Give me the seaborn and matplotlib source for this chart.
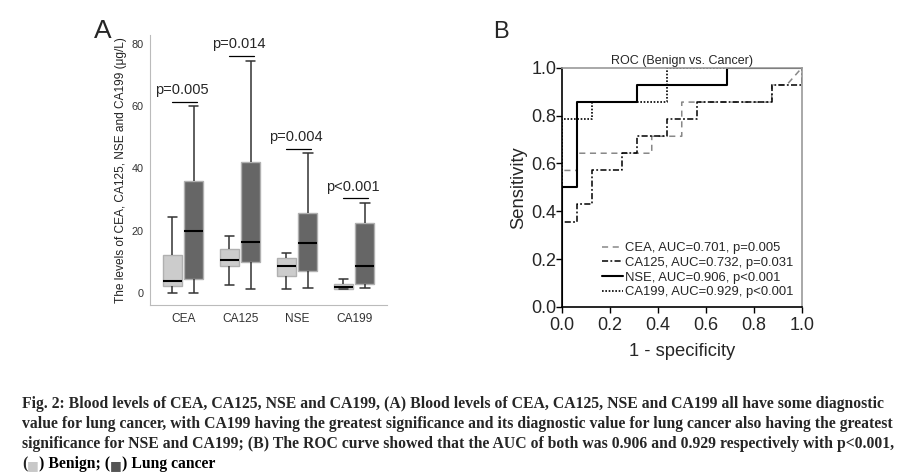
import numpy as np
import pandas as pd
import seaborn as sns
import matplotlib.pyplot as plt

# panel A: five-number summaries (min, q1, median, q3, max)
markers = ["CEA", "CA125", "NSE", "CA199"]
benign = {
    "CEA": [0.0, 2.0, 3.6, 12.0, 24.3],
    "CA125": [2.4, 8.4, 10.5, 14.0, 18.3],
    "NSE": [1.1, 5.4, 8.6, 11.0, 12.9],
    "CA199": [1.1, 1.3, 1.9, 2.8, 4.5],
}
cancer = {
    "CEA": [0.0, 4.3, 20.0, 36.0, 60.0],
    "CA125": [1.1, 10.0, 16.4, 42.0, 74.8],
    "NSE": [1.4, 7.1, 16.1, 25.6, 45.0],
    "CA199": [1.6, 2.8, 8.6, 22.4, 28.8],
}
p_text = ["p=0.005", "p=0.014", "p=0.004", "p<0.001"]
p_line = [61.5, 76.3, 46.3, 30.4]

# panel B: ROC step curves (1 - specificity, sensitivity)
roc_names = ["CEA, AUC=0.701, p=0.005", "CA125, AUC=0.732, p=0.031",
             "NSE, AUC=0.906, p<0.001", "CA199, AUC=0.929, p<0.001"]
cea_fpr = [0, 0, 0.0625, 0.0625, 0.375, 0.375, 0.5, 0.5, 0.875, 0.875, 0.9375, 1.0]
cea_tpr = [0, 0.571, 0.571, 0.643, 0.643, 0.714, 0.714, 0.857, 0.857, 0.929, 0.929, 1.0]
ca125_fpr = [0, 0, 0.0625, 0.0625, 0.125, 0.125, 0.25, 0.25, 0.3125, 0.3125, 0.4375, 0.4375,
             0.5625, 0.5625, 0.875, 0.875, 1.0, 1.0]
ca125_tpr = [0, 0.357, 0.357, 0.429, 0.429, 0.571, 0.571, 0.643, 0.643, 0.714, 0.714, 0.786,
             0.786, 0.857, 0.857, 0.929, 0.929, 1.0]
nse_fpr = [0, 0, 0.0625, 0.0625, 0.3125, 0.3125, 0.6875, 0.6875, 1.0]
nse_tpr = [0, 0.5, 0.5, 0.857, 0.857, 0.929, 0.929, 1.0, 1.0]
ca199_fpr = [0, 0, 0.125, 0.125, 0.4375, 0.4375, 1.0]
ca199_tpr = [0, 0.786, 0.786, 0.857, 0.857, 1.0, 1.0]

caption = [
    "Fig. 2: Blood levels of CEA, CA125, NSE and CA199, (A) Blood levels of CEA, CA125, NSE and CA199 all have some diagnostic",
    "value for lung cancer, with CA199 having the greatest significance and its diagnostic value for lung cancer also having the greatest",
    "significance for NSE and CA199; (B) The ROC curve showed that the AUC of both was 0.906 and 0.929 respectively with p<0.001,",
]

sns.set_style("white")
plt.rcParams['font.family'] = ['Liberation Sans', 'DejaVu Sans']

rows = []
for m in markers:
    for v in benign[m]:
        rows.append((m, "Benign", v))
    for v in cancer[m]:
        rows.append((m, "Lung cancer", v))
df = pd.DataFrame(rows, columns=["marker", "group", "value"])

fig = plt.figure(figsize=(9.09, 4.75), dpi=100)
axA = fig.add_axes([0.165, 0.358, 0.261, 0.568])
axB = fig.add_axes([0.618, 0.354, 0.264, 0.503])

sns.boxplot(data=df, x="marker", y="value", hue="group", order=markers,
            palette={"Benign": "#cccccc", "Lung cancer": "#666666"},
            whis=(0, 100), width=0.75, gap=0.12, linecolor="#b0b0b0", linewidth=1,
            medianprops=dict(color="black", linewidth=1.5),
            whiskerprops=dict(color="#333333", linewidth=1.1),
            capprops=dict(color="#333333", linewidth=1.1),
            legend=False, ax=axA)

for i, (t, yv) in enumerate(zip(p_text, p_line)):
    axA.plot([i - 0.2, i + 0.24], [yv, yv], color="black", lw=0.9)
    axA.text(i - 0.02, yv + 1.5, t, ha="center", va="bottom", fontsize=10.5)

axA.set_xlim(-0.58, 3.58)
axA.set_ylim(-4, 83)
axA.set_yticks([0, 20, 40, 60, 80])
axA.set_xlabel("")
axA.set_ylabel("The levels of CEA, CA125, NSE and CA199 (μg/L)", fontsize=8.6,
               color="#222222", labelpad=3.5)
axA.tick_params(axis="both", colors="#333333", length=3, color="#aaaaaa", width=0.8, pad=1.5)
axA.tick_params(axis="y", labelsize=7.8)
axA.tick_params(axis="x", labelsize=8.6, pad=3)
for s in ["top", "right"]:
    axA.spines[s].set_visible(False)
for s in ["left", "bottom"]:
    axA.spines[s].set_color("#bbbbbb")

# panel B
styles = [
    dict(color="#888888", lw=1.1, dashes=(4, 3)),
    dict(color="black", lw=1.1, dashes=(4, 1.5, 1.2, 1.5)),
    dict(color="black", lw=1.5),
    dict(color="black", lw=1.2, dashes=(1, 1)),
]
curves = [(cea_fpr, cea_tpr), (ca125_fpr, ca125_tpr), (nse_fpr, nse_tpr), (ca199_fpr, ca199_tpr)]
for (fx, fy), name, st in zip(curves, roc_names, styles):
    sns.lineplot(x=fx, y=fy, sort=False, estimator=None, label=name, ax=axB, **st)

ticks = np.arange(0, 1.01, 0.2)
axB.set_xlim(0, 1)
axB.set_ylim(0, 1)
axB.set_xticks(ticks)
axB.set_yticks(ticks)
axB.set_xticklabels([f"{v:.1f}" for v in ticks])
axB.set_yticklabels([f"{v:.1f}" for v in ticks])
axB.tick_params(axis="both", labelsize=13, length=4, width=1, color="black", direction="out",
                bottom=True, left=True, pad=0)
axB.tick_params(axis="x", pad=3)
axB.set_xlabel("1 - specificity", fontsize=13.2, labelpad=7)
axB.set_ylabel("Sensitivity", fontsize=13.2, labelpad=3)
axB.set_title("ROC (Benign vs. Cancer)", fontsize=9, pad=3)
for s in ["top", "right"]:
    axB.spines[s].set_color("#999999")
    axB.spines[s].set_linewidth(1.2)
for s in ["left", "bottom"]:
    axB.spines[s].set_color("black")
    axB.spines[s].set_linewidth(1.2)
axB.legend(loc="lower right", frameon=False, fontsize=9.4, handlelength=1.6,
           handletextpad=0.15, labelspacing=0.2, borderaxespad=0.55, borderpad=0.1)

fig.text(0.103, 0.92, "A", fontsize=19)
fig.text(0.543, 0.92, "B", fontsize=17)

cap_font = dict(family=["Liberation Serif", "DejaVu Serif"], fontweight="bold", fontsize=11.3)
for k, line in enumerate(caption):
    fig.text(0.024, 0.149 - k * 0.042, line, va="center", **cap_font)
prev = fig.text(0.024, 0.149 - 3 * 0.042, "(", va="center", **cap_font)
parts = [("■", "#c8c8c8"), (") Benign; (", "black"), ("■", "#555555"), (") Lung cancer", "black")]
for s, c in parts:
    kw = dict(cap_font)
    if s == "■":
        kw["family"] = ["DejaVu Sans"]
        kw["fontsize"] = 9
    prev = plt.annotate(s, xy=(1, 0), xycoords=prev, va="bottom", ha="left", color=c,
                        annotation_clip=False, **kw)

fig.savefig("out.png", dpi=100)
